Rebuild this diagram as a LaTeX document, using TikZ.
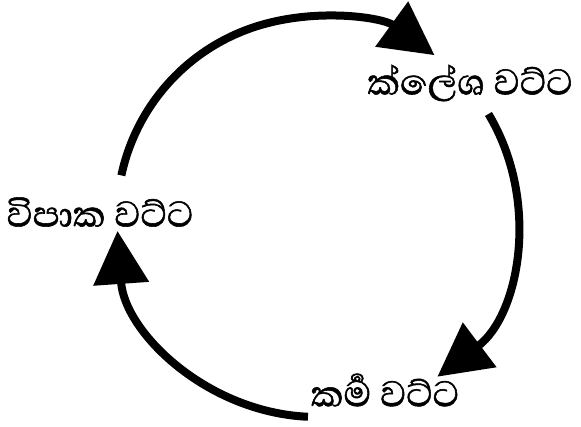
\documentclass[tikz,border=0pt]{standalone}
\usepackage{fontspec}
\newfontfamily\sinhala[Script=Sinhala, FakeBold=1.2]{Abhaya Libre}
\usetikzlibrary{arrows.meta, positioning, calc}

\begin{document}
\begin{tikzpicture}[
        x=1pt, y=1pt,
        stage/.style={font=\sinhala\fontsize{46}{50}\selectfont, inner sep=0pt},
        flow/.style={-{Triangle[length=53pt, width=54pt]}, line width=8pt, black}
    ]
        \useasboundingbox (0,0) rectangle (581,427);
        \coordinate (C) at (317,210);

        \node[stage] (kle) at (470,344) {ක්ලේශ වට්ට};
        \node[stage] (kar) at (385,37) {කර්^^^^200dම වට්ට};
        \node[stage] (vip) at (100,215) {විපාක වට්ට};

        \coordinate (vip-out) at ($(C)+(168:200pt)$);
        \coordinate (kle-out) at ($(C)+(31:200pt)$);
        \coordinate (kar-out) at ($(C)+(-92.6:200pt)$);

        \draw[flow] (vip-out) arc[start angle=168, end angle=54, radius=200pt];
        \draw[flow] (kle-out) arc[start angle=31, end angle=-53, radius=200pt];
        \draw[flow] (kar-out) arc[start angle=-92.6, end angle=-176, radius=200pt];
    \end{tikzpicture}
\end{document}
